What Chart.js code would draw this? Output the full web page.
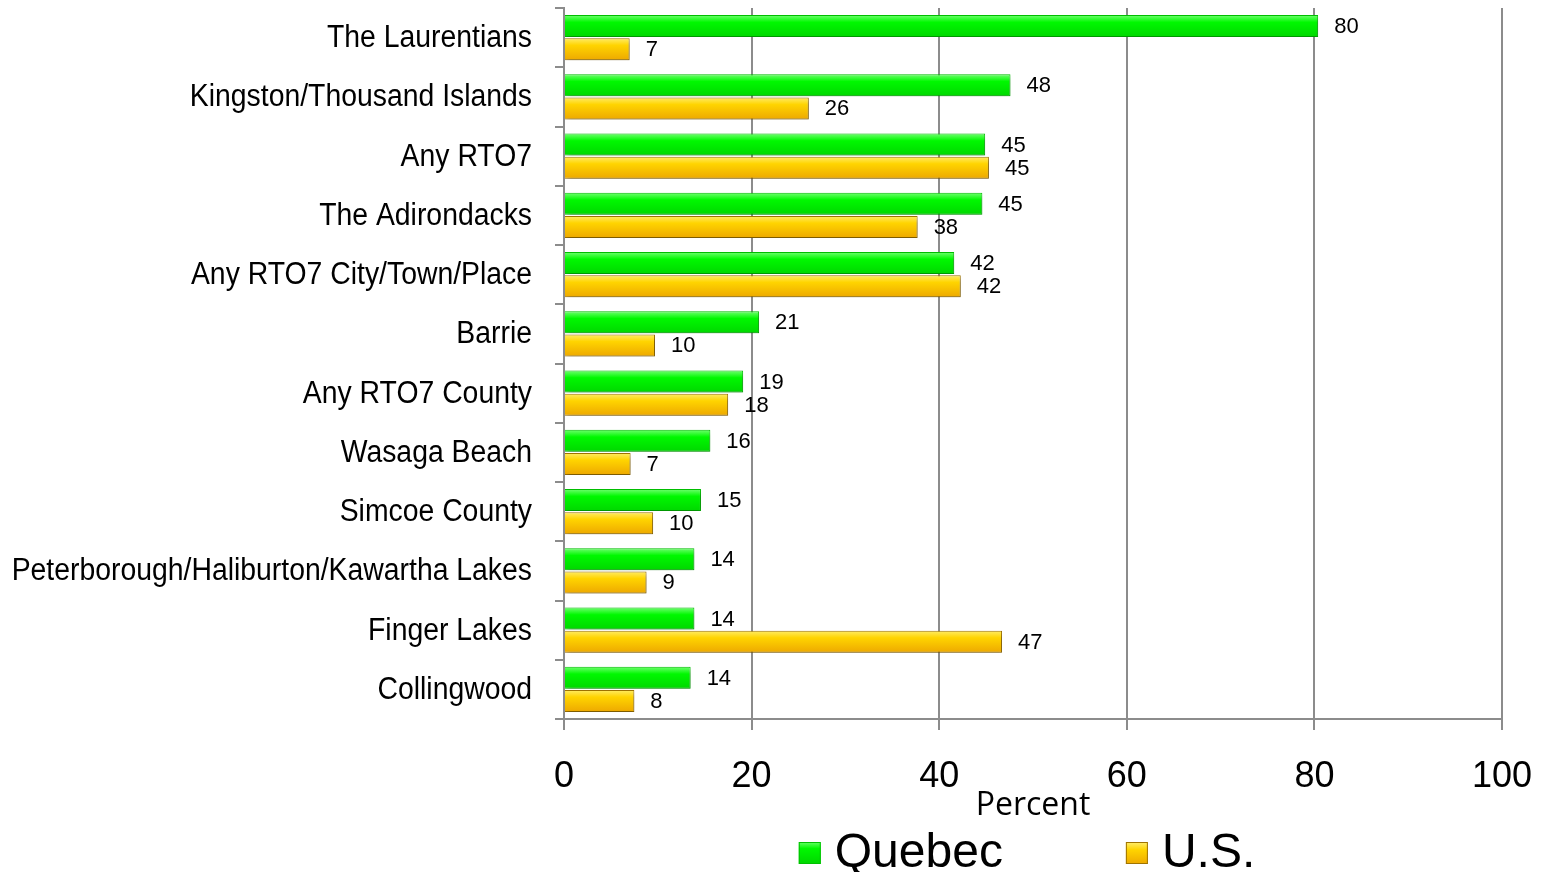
<!DOCTYPE html>
<html>
<head>
<meta charset="utf-8">
<script src="https://cdn.jsdelivr.net/npm/chart.js@4.4.1/dist/chart.umd.min.js"></script>
<style>
  body { margin: 0; background: #fff; }
  #wrap { width: 1541px; height: 872px; }
</style>
</head>
<body>
<div id="wrap"><canvas id="regionChart" width="1541" height="872"></canvas></div>
<script>
// categories, top to bottom
const regions = [
    'The Laurentians', 'Kingston/Thousand Islands', 'Any RTO7', 'The Adirondacks',
    'Any RTO7 City/Town/Place', 'Barrie', 'Any RTO7 County', 'Wasaga Beach',
    'Simcoe County', 'Peterborough/Haliburton/Kawartha Lakes', 'Finger Lakes', 'Collingwood'
];
const quebecValues = [80.4, 47.6, 44.9, 44.6, 41.6, 20.8, 19.1, 15.6, 14.6, 13.9, 13.9, 13.5];
const usValues = [7.0, 26.1, 45.3, 37.7, 42.3, 9.7, 17.5, 7.1, 9.5, 8.8, 46.7, 7.5];
const xTicks = [0, 20, 40, 60, 80, 100];
const seriesNames = ['Quebec', 'U.S.'];

const CAT_PCT = 0.78, BAR_PCT = 0.95;
const FONT = '"Liberation Sans", Arial, sans-serif';

// per-bar vertical gradient so each bar gets its own shading
function barFill(stops, solid) {
    return function (ctx) {
        const chart = ctx.chart;
        const y = chart.scales && chart.scales.y;
        if (!chart.chartArea || !y || ctx.dataIndex === undefined) return solid;
        const cat = (chart.chartArea.bottom - chart.chartArea.top) / regions.length;
        const barH = cat * CAT_PCT * BAR_PCT / 2;
        const c = y.getPixelForValue(ctx.dataIndex);
        const top = ctx.datasetIndex === 0 ? c - barH : c;
        const g = chart.ctx.createLinearGradient(0, top, 0, top + barH);
        stops.forEach(s => g.addColorStop(s[0], s[1]));
        return g;
    };
}

const greenStops = [[0, '#66ff66'], [0.3, '#00f800'], [1, '#00d600']];
const yellowStops = [[0, '#ffee70'], [0.35, '#ffd400'], [1, '#eeaa00']];

const barLook = {
    id: 'barLook',
    beforeDatasetsDraw(chart) {
        const ctx = chart.ctx;
        ctx.save();
        ctx.shadowColor = 'rgba(0,0,0,0.28)';
        ctx.shadowBlur = 5;
        ctx.shadowOffsetX = 2;
        ctx.shadowOffsetY = 3;
    },
    afterDatasetsDraw(chart) {
        const ctx = chart.ctx;
        ctx.restore();
        // value labels at the bar ends
        ctx.save();
        ctx.font = '22px ' + FONT;
        ctx.fillStyle = '#000';
        ctx.textBaseline = 'middle';
        chart.data.datasets.forEach((ds, i) => {
            chart.getDatasetMeta(i).data.forEach((el, j) => {
                ctx.fillText(String(Math.round(ds.data[j])), el.x + 16, el.y + 1);
            });
        });
        ctx.restore();
    },
    afterDraw(chart) {
        const ctx = chart.ctx;
        const y = chart.scales.y;
        const area = chart.chartArea;
        // category labels, slightly condensed like the original
        ctx.save();
        ctx.font = '31px ' + FONT;
        ctx.fillStyle = '#000';
        ctx.textBaseline = 'middle';
        ctx.textAlign = 'right';
        regions.forEach((name, i) => {
            ctx.save();
            ctx.translate(area.left - 32, y.getPixelForValue(i) + 1);
            ctx.scale(0.915, 1);
            ctx.fillText(name, 0, 0);
            ctx.restore();
        });
        // legend
        ctx.font = '48px ' + FONT;
        ctx.textAlign = 'left';
        const gap = 123;
        const widths = seriesNames.map(n => 22 + 14 + ctx.measureText(n).width);
        const total = widths[0] + gap + widths[1];
        let x = (area.left + area.right) / 2 - total / 2 - 6;
        const ly = 853;
        seriesNames.forEach((n, i) => {
            const g = ctx.createLinearGradient(0, ly - 11, 0, ly + 11);
            (i === 0 ? greenStops : yellowStops).forEach(s => g.addColorStop(s[0], s[1]));
            ctx.fillStyle = g;
            ctx.fillRect(x, ly - 11, 22, 22);
            ctx.strokeStyle = i === 0 ? '#00c000' : '#a07400';
            ctx.lineWidth = 1;
            ctx.strokeRect(x + 0.5, ly - 10.5, 21, 21);
            ctx.fillStyle = '#000';
            ctx.fillText(n, x + 36, ly + 1);
            x += widths[i] + gap;
        });
        ctx.restore();
    }
};

new Chart(document.getElementById('regionChart').getContext('2d'), {
    type: 'bar',
    data: {
        labels: regions,
        datasets: [{
            label: seriesNames[0],
            data: quebecValues,
            backgroundColor: barFill(greenStops, '#00ee00'),
            borderColor: '#00c000',
            borderWidth: 1,
            categoryPercentage: CAT_PCT,
            barPercentage: BAR_PCT
        }, {
            label: seriesNames[1],
            data: usValues,
            backgroundColor: barFill(yellowStops, '#ffc800'),
            borderColor: '#a07400',
            borderWidth: 1,
            categoryPercentage: CAT_PCT,
            barPercentage: BAR_PCT
        }]
    },
    options: {
        indexAxis: 'y',
        responsive: false,
        animation: false,
        layout: { padding: { top: 8, right: 39, left: 0, bottom: 0 } },
        scales: {
            x: {
                min: 0,
                max: 100,
                afterBuildTicks: axis => { axis.ticks = xTicks.map(v => ({ value: v })); },
                afterFit: axis => {
                    axis.height = 153;
                    axis.paddingLeft = 0;
                    axis.paddingRight = 0;
                },
                grid: { color: '#8c8c8c', lineWidth: 2, tickLength: 11, tickColor: '#8c8c8c' },
                border: { color: '#8c8c8c', width: 2 },
                ticks: {
                    color: '#000',
                    padding: 25,
                    maxRotation: 0,
                    font: { family: FONT, size: 36 }
                },
                title: {
                    display: true,
                    text: 'Percent',
                    color: '#000',
                    padding: { top: 0, bottom: 47 },
                    font: { family: '"Open Sans", sans-serif', size: 32 }
                }
            },
            y: {
                afterFit: axis => { axis.width = 564; },
                grid: { drawOnChartArea: false, offset: true, tickLength: 9, color: '#8c8c8c', lineWidth: 2 },
                border: { color: '#8c8c8c', width: 2 },
                ticks: { display: false }
            }
        },
        plugins: {
            legend: { display: false },
            tooltip: { enabled: false }
        }
    },
    plugins: [barLook]
});
</script>
</body>
</html>
